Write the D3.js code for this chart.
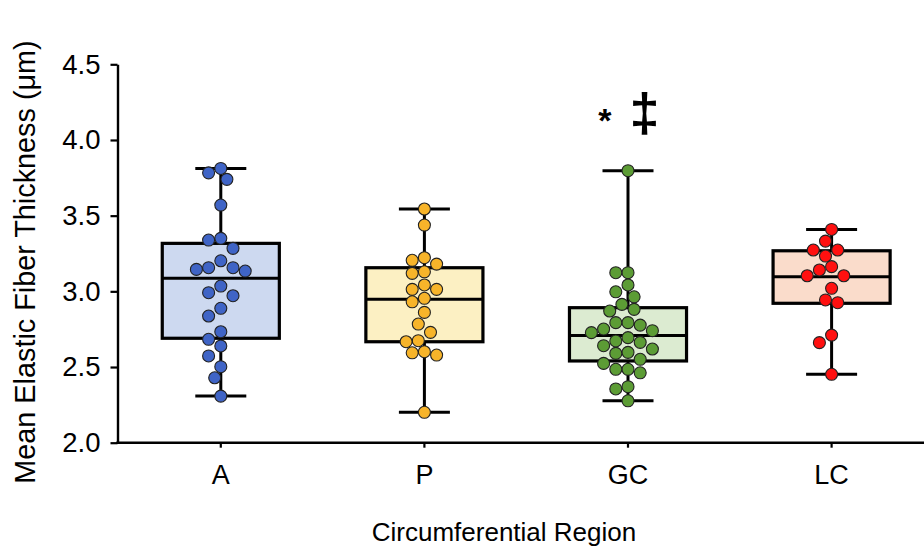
<!DOCTYPE html>
<html>
<head>
<meta charset="utf-8">
<script src="https://cdn.jsdelivr.net/npm/d3@7"></script>
<style>
  body { margin: 0; background: #fff; }
  text { font-family: "Liberation Sans", Arial, sans-serif; fill: #000; }
</style>
</head>
<body>
<div id="chart"></div>
<script>
// categories and raw points
var categories = ["A", "P", "GC", "LC"];

var valuesA = [3.812, 3.783, 3.740, 3.570, 3.350, 3.339, 3.284, 3.202, 3.156, 3.156, 3.145, 3.134,
               3.035, 2.991, 2.971, 2.888, 2.837, 2.733, 2.683, 2.639, 2.573, 2.502, 2.429, 2.308];
var valuesP = [3.544, 3.438, 3.222, 3.205, 3.180, 3.129, 3.119, 3.042, 3.013, 3.013, 2.954,
               2.931, 2.861, 2.784, 2.729, 2.674, 2.667, 2.601, 2.594, 2.579, 2.201];
var valuesGC = [3.797, 3.123, 3.123, 3.042, 2.997, 2.964, 2.914, 2.881, 2.870, 2.793, 2.793,
                2.777, 2.751, 2.740, 2.727, 2.694, 2.672, 2.663, 2.641, 2.619, 2.597, 2.590,
                2.551, 2.524, 2.485, 2.485, 2.462, 2.370, 2.355, 2.277];
var valuesLC = [3.409, 3.332, 3.273, 3.273, 3.233, 3.163, 3.141, 3.103, 3.103, 3.020,
                2.943, 2.925, 2.711, 2.661, 2.452];

// box statistics as drawn
var q1 = [2.690, 2.667, 2.540, 2.921];
var medians = [3.086, 2.947, 2.709, 3.096];
var q3 = [3.317, 3.156, 2.892, 3.268];

var yTicks = [2.0, 2.5, 3.0, 3.5, 4.0, 4.5];

var boxFill = ["#cdd9f0", "#fcf0c3", "#dcebd1", "#fadccb"];
var dotFill = ["#3f64c6", "#f7b42a", "#5c9c35", "#ff1010"];

var allValues = [valuesA, valuesP, valuesGC, valuesLC];

var width = 924, height = 553;

var svg = d3.select("#chart").append("svg")
    .attr("width", width)
    .attr("height", height);

var x = d3.scaleBand()
    .domain(categories)
    .range([119, 933.4])
    .paddingInner(0)
    .paddingOuter(0);

var y = d3.scaleLinear()
    .domain([2.0, 4.5])
    .range([442.7, 64.3]);

var boxW = x.bandwidth() * 0.575;
var capW = 51;
var dotR = 6;
var dotD = 12.2;

function cx(c) { return x(c) + x.bandwidth() / 2; }

// axes
var yAxis = svg.append("g")
    .attr("transform", "translate(117.5,0)")
    .call(d3.axisLeft(y).tickValues(yTicks).tickFormat(d3.format(".1f")).tickSize(7).tickSizeOuter(0));
yAxis.select(".domain").attr("stroke-width", 2.4);
yAxis.selectAll(".tick line").attr("stroke-width", 2.2);
yAxis.selectAll(".tick text")
    .attr("x", -17)
    .attr("font-size", "27.5px")
    .style("font-family", "'Liberation Sans', Arial, sans-serif");

var xAxis = svg.append("g")
    .attr("transform", "translate(0,442.7)")
    .call(d3.axisBottom(x).tickSize(5).tickSizeOuter(0));
xAxis.select(".domain").attr("d", "M116.3,0H924").attr("stroke-width", 2.4);
xAxis.selectAll(".tick line").attr("stroke-width", 2.2);
xAxis.selectAll(".tick text")
    .attr("y", 22)
    .attr("font-size", "27px")
    .style("font-family", "'Liberation Sans', Arial, sans-serif");

svg.append("text")
    .attr("transform", "translate(35,262) rotate(-90)")
    .attr("text-anchor", "middle")
    .attr("font-size", "28.8px")
    .text("Mean Elastic Fiber Thickness (\u03bcm)");

svg.append("text")
    .attr("x", 504)
    .attr("y", 541)
    .attr("text-anchor", "middle")
    .attr("font-size", "26px")
    .text("Circumferential Region");

// boxes
var boxes = svg.append("g")
    .selectAll("g")
    .data(categories)
    .enter().append("g");

boxes.each(function(c, i) {
    var g = d3.select(this);
    var ext = d3.extent(allValues[i]);
    var m = cx(c);
    g.append("line")
        .attr("x1", m).attr("x2", m)
        .attr("y1", y(ext[0])).attr("y2", y(q1[i]))
        .attr("stroke", "#000").attr("stroke-width", 3);
    g.append("line")
        .attr("x1", m).attr("x2", m)
        .attr("y1", y(ext[1])).attr("y2", y(q3[i]))
        .attr("stroke", "#000").attr("stroke-width", 3);
    g.append("line")
        .attr("x1", m - capW / 2).attr("x2", m + capW / 2)
        .attr("y1", y(ext[0])).attr("y2", y(ext[0]))
        .attr("stroke", "#000").attr("stroke-width", 3);
    g.append("line")
        .attr("x1", m - capW / 2).attr("x2", m + capW / 2)
        .attr("y1", y(ext[1])).attr("y2", y(ext[1]))
        .attr("stroke", "#000").attr("stroke-width", 3);
    g.append("rect")
        .attr("x", m - boxW / 2)
        .attr("y", y(q3[i]))
        .attr("width", boxW)
        .attr("height", y(q1[i]) - y(q3[i]))
        .attr("fill", boxFill[i])
        .attr("stroke", "#000")
        .attr("stroke-width", 3.2);
    g.append("line")
        .attr("x1", m - boxW / 2).attr("x2", m + boxW / 2)
        .attr("y1", y(medians[i])).attr("y2", y(medians[i]))
        .attr("stroke", "#000").attr("stroke-width", 3);
});

// simple beeswarm, offsets in half-diameter steps
function swarm(vals) {
    var pts = vals.map(function(v) { return {v: v, py: y(v), dx: 0}; })
        .sort(function(a, b) { return a.py - b.py; });
    var placed = [];
    pts.forEach(function(p) {
        for (var k = 0; k < 40; k++) {
            var off = (k % 2 === 1 ? -1 : 1) * Math.ceil(k / 2) * dotD / 2;
            var ok = placed.every(function(q) {
                return Math.hypot(q.dx - off, q.py - p.py) >= dotD;
            });
            if (ok) { p.dx = off; break; }
        }
        placed.push(p);
    });
    return placed;
}

categories.forEach(function(c, i) {
    svg.append("g")
        .selectAll("circle")
        .data(swarm(allValues[i]))
        .enter().append("circle")
        .attr("cx", function(d) { return cx(c) + d.dx; })
        .attr("cy", function(d) { return d.py; })
        .attr("r", dotR)
        .attr("fill", dotFill[i])
        .attr("stroke", "#222")
        .attr("stroke-width", 1.1);
});

// significance marks above GC
var sig = svg.append("text")
    .attr("x", cx("GC") + 1)
    .attr("y", y(4.05))
    .attr("text-anchor", "middle")
    .attr("font-weight", "bold");
sig.append("tspan").attr("font-size", "34px").attr("dy", 0).text("*");
sig.append("tspan").attr("font-size", "54px").attr("dx", 18).attr("dy", -1).text("\u2021");
</script>
</body>
</html>
